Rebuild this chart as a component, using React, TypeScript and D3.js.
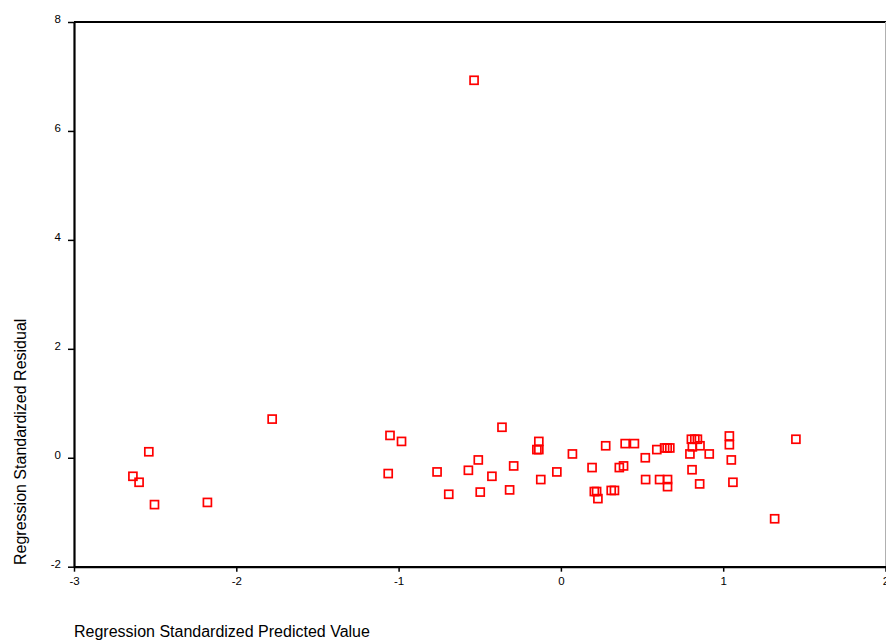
import { useEffect, useRef } from "react";
import * as d3 from "d3";

const WIDTH = 886;
const HEIGHT = 640;
const MARGIN = { top: 22, right: 0.5, bottom: 73.3, left: 74 };
const FONT = "'Liberation Sans', Arial, sans-serif";

// Standardized predicted values (x) and residuals (y)
const predicted = [
  -2.637, -2.599, -2.539, -2.504, -2.178, -1.779, -1.064, -1.053, -0.982, -0.763,
  -0.691, -0.57, -0.535, -0.509, -0.497, -0.425, -0.363, -0.316, -0.291, -0.148,
  -0.136, -0.136, -0.124, -0.025, 0.071, 0.192, 0.206, 0.22, 0.228, 0.276,
  0.31, 0.33, 0.36, 0.386, 0.396, 0.453, 0.52, 0.522, 0.591, 0.608,
  0.639, 0.655, 0.671, 0.657, 0.657, 0.795, 0.804, 0.825, 0.841, 0.81,
  0.808, 0.857, 0.855, 0.914, 1.038, 1.038, 1.05, 1.06, 1.317, 1.448,
];
const residual = [
  -0.34, -0.45, 0.11, -0.86, -0.82, 0.71, -0.29, 0.41, 0.3, -0.26,
  -0.67, -0.23, 6.93, -0.04, -0.63, -0.34, 0.56, -0.59, -0.15, 0.15,
  0.15, 0.3, -0.4, -0.26, 0.07, -0.18, -0.62, -0.62, -0.75, 0.22,
  -0.6, -0.6, -0.18, -0.15, 0.26, 0.26, 0.0, -0.4, 0.15, -0.4,
  0.18, 0.18, 0.18, -0.4, -0.53, 0.07, 0.34, 0.34, 0.34, 0.2,
  -0.22, 0.22, -0.48, 0.07, 0.4, 0.24, -0.04, -0.45, -1.12, 0.34,
];
const xTicks = [-3, -2, -1, 0, 1, 2];
const yTicks = [-2, 0, 2, 4, 6, 8];
const X_TITLE = "Regression Standardized Predicted Value";
const Y_TITLE = "Regression Standardized Residual";

// plain hyphen for negatives, like the original
const fmt = (d: d3.NumberValue) => String(d);

export default function App() {
  const svgRef = useRef<SVGSVGElement | null>(null);

  useEffect(() => {
    if (!svgRef.current) return;
    const svg = d3.select(svgRef.current);
    svg.selectAll("*").remove();

    const innerW = WIDTH - MARGIN.left - MARGIN.right;
    const innerH = HEIGHT - MARGIN.top - MARGIN.bottom;

    const x = d3.scaleLinear().domain([-3, 2]).range([0, innerW]);
    const y = d3.scaleLinear().domain([-2, 8]).range([innerH, 0]);

    const root = svg
      .append("g")
      .attr("transform", `translate(${MARGIN.left},${MARGIN.top})`);

    // frame: black top line, grey right edge
    root
      .append("line")
      .attr("x1", 0)
      .attr("x2", innerW + 1)
      .attr("y1", 0)
      .attr("y2", 0)
      .attr("stroke", "#000")
      .attr("stroke-width", 2);
    root
      .append("line")
      .attr("x1", innerW)
      .attr("x2", innerW)
      .attr("y1", 0)
      .attr("y2", innerH)
      .attr("stroke", "#b0b0b0")
      .attr("stroke-width", 1);

    // x axis
    const xAxisG = root
      .append("g")
      .attr("transform", `translate(0,${innerH})`)
      .call(
        d3.axisBottom(x).tickValues(xTicks).tickSize(5).tickSizeOuter(0).tickFormat(fmt)
      );
    xAxisG.select(".domain").attr("stroke-width", 2.2);
    xAxisG.selectAll("line").attr("stroke-width", 1.5);
    xAxisG
      .selectAll("text")
      .attr("y", 18)
      .attr("dy", "0")
      .attr("font-family", FONT)
      .attr("font-size", 11.5)
      .attr("fill", "#000");

    // y axis
    const yAxisG = root
      .append("g")
      .call(d3.axisLeft(y).tickValues(yTicks).tickSize(6).tickSizeOuter(0).tickFormat(fmt));
    yAxisG.select(".domain").attr("stroke-width", 2.2);
    yAxisG.selectAll("line").attr("stroke-width", 1.5);
    yAxisG
      .selectAll("text")
      .attr("x", -13)
      .attr("dy", "0.05em")
      .attr("font-family", FONT)
      .attr("font-size", 11.5)
      .attr("fill", "#000");

    // markers: open red squares
    const pts = predicted.map((p, i) => [p, residual[i]] as [number, number]);
    const S = 8;
    root
      .append("g")
      .selectAll("rect")
      .data(pts)
      .join("rect")
      .attr("x", (d) => x(d[0]) - S / 2)
      .attr("y", (d) => y(d[1]) - S / 2)
      .attr("width", S)
      .attr("height", S)
      .attr("fill", "none")
      .attr("stroke", "#ff0000")
      .attr("stroke-width", 1.7);

    // axis titles
    svg
      .append("text")
      .attr("x", MARGIN.left)
      .attr("y", 637)
      .attr("font-family", FONT)
      .attr("font-size", 16)
      .attr("fill", "#000")
      .text(X_TITLE);
    svg
      .append("text")
      .attr("transform", "translate(25.5,565) rotate(-90)")
      .attr("font-family", FONT)
      .attr("font-size", 16)
      .attr("fill", "#000")
      .text(Y_TITLE);
  }, []);

  return (
    <div style={{ position: "absolute", left: 0, top: 0 }}>
      <svg ref={svgRef} width={WIDTH} height={HEIGHT} style={{ display: "block", background: "#fff" }} />
    </div>
  );
}
